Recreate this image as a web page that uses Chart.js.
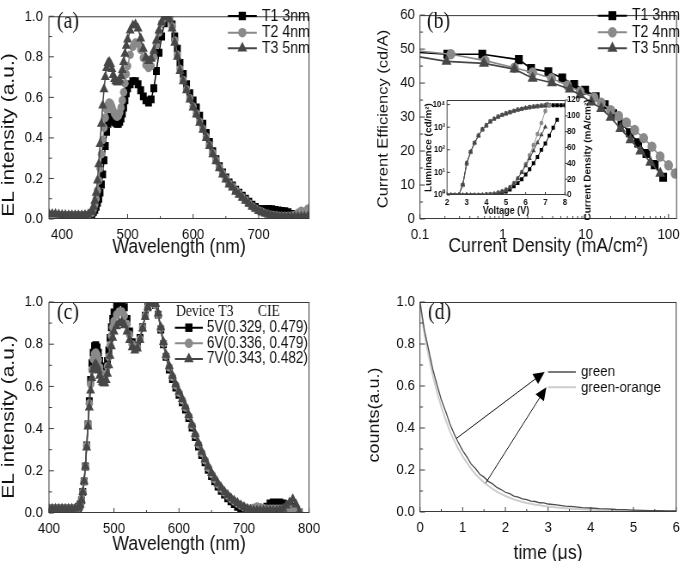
<!DOCTYPE html>
<html>
<head>
<meta charset="utf-8">
<title>EL spectra, efficiency and decay</title>
<script src="https://cdn.jsdelivr.net/npm/chart.js@4.4.1/dist/chart.umd.min.js"></script>
<style>
  html, body { margin: 0; padding: 0; background: #fff; }
  #wrap { position: relative; width: 685px; height: 561px; overflow: hidden; background: #fff; }
</style>
</head>
<body>
<div id="wrap"></div>
<script>
// ---------- data ----------
// wavelength grid (nm) shared by panels (a) and (c)
const wl = [380,385,390,395,400,405,410,415,420,425,430,435,440,445,
  446,448,450,452,454,456,458,460,462,464,466,468,470,472,474,476,478,480,482,484,486,488,490,492,494,496,498,500,
  504,508,512,516,520,524,528,532,536,540,544,548,552,556,560,564,568,572,576,580,
  585,590,595,600,605,610,615,620,625,630,635,640,645,650,655,660,665,670,675,680,685,690,695,700,
  705,710,715,720,725,730,735,740,745,750,755,760,765,770,775,780,785];

// (a) EL spectra, T1 / T2 / T3
const elT1 = [0.02,0.02,0.02,0.02,0.02,0.018,0.018,0.018,0.018,0.018,0.018,0.018,0.02,0.025,
  0.03,0.035,0.045,0.06,0.08,0.1,0.13,0.17,0.22,0.29,0.36,0.43,0.47,0.495,0.505,0.5,0.49,0.48,0.475,0.47,0.47,0.48,0.495,0.52,0.55,0.585,0.62,0.645,
  0.665,0.68,0.68,0.665,0.635,0.605,0.585,0.575,0.59,0.645,0.73,0.82,0.9,0.965,1.0,0.995,0.96,0.9,0.84,0.77,
  0.715,0.665,0.62,0.585,0.55,0.51,0.47,0.425,0.38,0.335,0.295,0.26,0.23,0.205,0.18,0.165,0.145,0.13,0.115,0.1,0.085,0.07,0.06,
  0.05,0.048,0.048,0.05,0.048,0.045,0.042,0.04,0.038,0.033,0.025,0.02,0.018,0.017,0.016,0.016,0.016,0.016];
const elT2 = [0.022,0.022,0.022,0.02,0.02,0.018,0.018,0.018,0.018,0.018,0.018,0.02,0.022,0.03,
  0.035,0.05,0.07,0.1,0.14,0.19,0.25,0.32,0.39,0.45,0.5,0.54,0.565,0.575,0.57,0.555,0.535,0.52,0.51,0.505,0.51,0.525,0.55,0.585,0.625,0.67,0.715,0.755,
  0.81,0.85,0.87,0.865,0.835,0.795,0.76,0.745,0.755,0.8,0.86,0.92,0.965,0.99,1.0,0.99,0.95,0.88,0.81,0.74,
  0.685,0.64,0.595,0.555,0.52,0.48,0.445,0.405,0.365,0.325,0.29,0.255,0.225,0.2,0.175,0.16,0.14,0.125,0.108,0.093,0.078,0.063,0.052,
  0.042,0.035,0.028,0.023,0.02,0.018,0.016,0.015,0.015,0.015,0.016,0.02,0.03,0.04,0.035,0.05,0.06,0.06];
const elT3 = [0.025,0.025,0.025,0.022,0.02,0.02,0.018,0.018,0.018,0.018,0.018,0.02,0.022,0.035,
  0.04,0.06,0.09,0.13,0.19,0.27,0.37,0.47,0.56,0.64,0.7,0.745,0.77,0.775,0.765,0.74,0.71,0.69,0.68,0.675,0.675,0.685,0.705,0.735,0.775,0.815,0.855,0.885,
  0.93,0.955,0.96,0.94,0.89,0.84,0.795,0.78,0.79,0.83,0.88,0.93,0.97,0.995,1.0,0.985,0.94,0.87,0.8,0.73,
  0.68,0.635,0.59,0.55,0.515,0.475,0.44,0.4,0.36,0.32,0.285,0.25,0.22,0.195,0.17,0.155,0.135,0.12,0.105,0.09,0.075,0.06,0.05,
  0.04,0.033,0.027,0.022,0.018,0.015,0.013,0.012,0.011,0.011,0.011,0.011,0.011,0.011,0.011,0.011,0.011,0.011];

// (c) EL spectra of device T3 at 5 V / 6 V / 7 V
const el5V = [0.02,0.02,0.02,0.02,0.02,0.02,0.02,0.02,0.02,0.02,0.02,0.02,0.02,0.025,
  0.03,0.04,0.06,0.1,0.15,0.22,0.32,0.42,0.53,0.63,0.71,0.76,0.79,0.795,0.785,0.76,0.72,0.695,0.68,0.67,0.67,0.685,0.72,0.77,0.83,0.88,0.92,0.95,
  0.985,1.0,1.0,0.975,0.92,0.86,0.81,0.785,0.79,0.83,0.88,0.935,0.975,0.995,1.0,0.985,0.94,0.87,0.8,0.74,
  0.68,0.635,0.595,0.56,0.525,0.49,0.45,0.405,0.36,0.315,0.275,0.24,0.205,0.175,0.15,0.125,0.105,0.087,0.07,0.055,0.042,0.03,0.02,
  0.01,0.004,0.002,0.002,0.005,0.01,0.02,0.03,0.045,0.05,0.045,0.05,0.045,0.04,0.035,0.03,0.01,0.002];
const el6V = [0.02,0.02,0.02,0.02,0.02,0.02,0.02,0.02,0.02,0.02,0.02,0.02,0.02,0.025,
  0.03,0.04,0.06,0.1,0.15,0.22,0.32,0.42,0.52,0.61,0.68,0.73,0.755,0.76,0.75,0.725,0.69,0.665,0.65,0.645,0.645,0.66,0.695,0.74,0.795,0.84,0.88,0.91,
  0.94,0.955,0.955,0.935,0.895,0.845,0.8,0.78,0.785,0.825,0.88,0.935,0.975,0.995,1.0,0.985,0.94,0.875,0.805,0.745,
  0.69,0.645,0.605,0.57,0.535,0.5,0.46,0.415,0.37,0.325,0.285,0.25,0.215,0.185,0.16,0.135,0.115,0.097,0.082,0.067,0.055,0.044,0.035,
  0.027,0.022,0.02,0.025,0.03,0.027,0.022,0.02,0.02,0.02,0.02,0.02,0.02,0.02,0.02,0.02,0.01,0.005];
const el7V = [0.02,0.02,0.02,0.02,0.02,0.02,0.02,0.02,0.02,0.02,0.02,0.02,0.02,0.025,
  0.03,0.04,0.06,0.1,0.15,0.22,0.31,0.41,0.5,0.58,0.64,0.68,0.7,0.705,0.695,0.675,0.65,0.63,0.62,0.615,0.615,0.63,0.66,0.7,0.745,0.79,0.83,0.86,
  0.885,0.9,0.905,0.89,0.86,0.82,0.785,0.77,0.78,0.82,0.875,0.93,0.975,0.995,1.0,0.99,0.945,0.88,0.81,0.75,
  0.695,0.65,0.61,0.575,0.54,0.505,0.465,0.42,0.375,0.33,0.29,0.255,0.22,0.19,0.165,0.14,0.12,0.1,0.085,0.07,0.058,0.047,0.037,
  0.028,0.02,0.015,0.012,0.012,0.012,0.012,0.012,0.012,0.012,0.012,0.015,0.02,0.035,0.05,0.065,0.04,0.005];

// (b) current efficiency (cd/A) vs current density (mA/cm2)
const jT1 = [0.07,0.214,0.565,1.56,2.19,3.54,5.21,7.26,9.84,13.2,17,21.5,27,34,43,54,68,86];
const ceT1 = [49.2,48.5,48.5,46.9,44.3,43.3,41.5,39.6,37.9,36.0,33.6,31.0,28.2,25.4,22.4,19.3,16.0,12.3];
const jT2 = [0.07,0.236,0.613,1.38,2.29,3.87,6.03,8.57,12.6,15.4,20,25,31,39,50,63,79,100,120];
const ceT2 = [49.8,48.5,46.6,44.5,43.1,41.4,39.3,37.5,35.8,34.2,32.0,30.3,28.4,26.2,23.8,21.3,18.4,15.8,13.4];
const jT3 = [0.07,0.209,0.591,1.38,2.29,3.91,6.43,8.57,11.7,15.4,20,26.3,34.7,45.7,60.3,79.5];
const ceT3 = [48.3,46.4,45.8,44.1,41.4,40.1,38.2,36.5,34.4,32.5,29.9,26.6,23.3,20.0,16.7,13.4];

// (b) inset: luminance (cd/m2) and current density (mA/cm2) vs voltage (V)
const lumV1 = [2.0,2.2,2.4,2.6,2.8,3.0,3.2,3.4,3.6,3.8,4.0,4.2,4.4,4.6,4.8,5.0,5.2,5.4,5.6,5.8,6.0,6.2,6.4,6.6,6.8,7.0,7.2,7.4,7.6,7.8,8.0];
const lumT1 = [1,1,1,1,2.8,25,80,200,420,800,1200,1780,2340,2880,3470,4000,4570,5250,5900,6450,7080,7600,8130,8500,8900,9100,9300,9300,9300,9300,9300];
const lumV2 = [2.0,2.2,2.4,2.6,2.8,3.0,3.2,3.4,3.6,3.8,4.0,4.2,4.4,4.6,4.8,5.0,5.2,5.4,5.6,5.8,6.0,6.2,6.4,6.6,6.8,7.0,7.2];
const lumT2 = [1,1,1,1,2.7,24,78,195,410,790,1190,1760,2330,2870,3450,3980,4560,5230,5880,6430,7050,7580,8100,8480,8880,9080,9280];
const lumV3 = [2.0,2.2,2.4,2.6,2.8,3.0,3.2,3.4,3.6,3.8,4.0,4.2,4.4,4.6,4.8,5.0,5.2,5.4,5.6,5.8,6.0,6.2,6.4,6.6,6.8,7.0];
const lumT3 = [1,1,1,1,2.9,26,82,205,430,810,1210,1790,2350,2890,3480,4010,4580,5260,5910,6460,7090,7610,8140,8510,8910,9110];
const jvV1 = [2.0,2.2,2.4,2.6,2.8,3.0,3.2,3.4,3.6,3.8,4.0,4.2,4.4,4.6,4.8,5.0,5.2,5.4,5.6,5.8,6.0,6.2,6.4,6.6,6.8,7.0,7.2,7.4,7.6];
const jvT1 = [0,0,0,0,0,0,0,0,0,0.1,0.2,0.5,1.0,1.8,3.0,4.5,7,11,15,20,26,32.5,40,48,57,65,75,85,95];
const jvV2 = [2.0,2.2,2.4,2.6,2.8,3.0,3.2,3.4,3.6,3.8,4.0,4.2,4.4,4.6,4.8,5.0,5.2,5.4,5.6,5.8,6.0,6.2,6.4,6.6,6.8,7.0,7.1];
const jvT2 = [0,0,0,0,0,0,0,0,0,0.1,0.3,0.8,1.6,3,4.8,7,10,15,21,29,39,50,63,77,91,106,115];
const jvV3 = [2.0,2.2,2.4,2.6,2.8,3.0,3.2,3.4,3.6,3.8,4.0,4.2,4.4,4.6,4.8,5.0,5.2,5.4,5.6,5.8,6.0,6.2,6.4,6.6,6.8,7.0];
const jvT3 = [0,0,0,0,0,0,0,0,0,0.1,0.3,0.7,1.5,2.8,4.5,6.5,9.5,14.5,21,28.5,37,46,56,66,76,86];

// (d) transient decay
const tD = [0,0.1,0.2,0.3,0.4,0.5,0.6,0.7,0.8,0.9,1.0,1.1,1.2,1.3,1.4,1.5,1.6,1.7,1.8,1.9,2.0,2.1,2.2,2.3,2.4,2.5,2.6,2.7,2.8,2.9,3.0,
  3.2,3.4,3.6,3.8,4.0,4.2,4.4,4.6,4.8,5.0,5.2,5.4,5.6,5.8,6.0];
const decGreen = [1.0,0.87,0.775,0.68,0.605,0.535,0.48,0.42,0.372,0.33,0.292,0.262,0.228,0.207,0.18,0.166,0.146,0.134,0.117,0.107,
  0.094,0.087,0.076,0.071,0.063,0.059,0.052,0.05,0.044,0.043,0.038,
  0.034,0.028,0.026,0.021,0.019,0.016,0.015,0.012,0.011,0.009,0.008,0.007,0.007,0.005,0.005];
const decGreenOrange = [1.0,0.85,0.745,0.65,0.57,0.5,0.44,0.385,0.34,0.3,0.265,0.235,0.205,0.18,0.16,0.14,0.125,0.11,0.097,0.086,
  0.076,0.068,0.06,0.054,0.048,0.043,0.039,0.035,0.032,0.029,0.026,
  0.022,0.018,0.015,0.013,0.011,0.009,0.008,0.007,0.006,0.005,0.004,0.004,0.003,0.003,0.003];

// tick labels
const wlTicksA = [400,500,600,700];
const wlTicksC = [400,500,600,700,800];
const elTicks = [0,0.2,0.4,0.6,0.8,1.0];
const ceTicks = [0,10,20,30,40,50,60];
const jTicks = [0.1,1,10,100];
const vTicks = [2,3,4,5,6,7,8];
const lumTicks = [1,10,100,1000,10000];
const jvTicks = [0,20,40,60,80,100,120];
const tTicks = [0,1,2,3,4,5,6];

// ---------- drawing ----------
const K = 0.86;               // the source figure is squeezed horizontally
const hx = v => v / K;
const SANS = "'Liberation Sans', Arial, Helvetica, sans-serif";
const SERIF = "'Liberation Serif', 'Times New Roman', serif";
const AX = '#3a3a3a', TXT = '#111';
const C1 = '#000000', C2 = '#8a8a8a', C3 = '#474747';
const sup = ['\u2070', '\u00b9', '\u00b2', '\u00b3', '\u2074'];
const UP = -Math.PI / 2;

const wrap = document.getElementById('wrap');
function makeCanvas(left, top, w, h) {
  const c = document.createElement('canvas');
  c.width = Math.round(w / K);
  c.height = h;
  c.style.cssText = `position:absolute;left:${left}px;top:${top}px;width:${w}px;height:${h}px;`;
  wrap.appendChild(c);
  return c;
}

function pts(xs, ys) { return xs.map((x, i) => ({ x, y: ys[i] })); }

function ds(label, data, color, style, r, order, bw, yAxisID) {
  const d = { label, data, borderColor: color, backgroundColor: color, pointBackgroundColor: color,
    pointBorderColor: color, pointBorderWidth: 0, pointStyle: style, pointRadius: r, pointHoverRadius: r,
    borderWidth: bw, order, tension: 0, fill: false };
  if (yAxisID) d.yAxisID = yAxisID;
  return d;
}

function axis(o) {
  return {
    type: o.type || 'linear', min: o.min, max: o.max, position: o.position,
    afterBuildTicks: s => { s.ticks = o.ticks.map(v => ({ value: v })); },
    afterFit: s => { if (o.width != null) s.width = o.width; if (o.height != null) s.height = o.height; },
    grid: { display: false, drawTicks: false },
    border: { display: false },
    ticks: { color: TXT, font: { family: SANS, size: o.fs || 15.5, weight: o.fw || 'normal' },
      padding: o.tpad, maxRotation: 0, minRotation: 0, autoSkip: false, callback: o.fmt },
    title: { display: !!o.title, text: o.title || '', color: TXT,
      font: { family: SANS, size: o.tfs || 20.5, weight: o.fw || 'normal' }, padding: o.titlePad || 0 }
  };
}

function marker(ctx, style, x, y, r, color) {
  ctx.fillStyle = color;
  ctx.beginPath();
  if (style === 'rect') { const s = r * Math.SQRT1_2; ctx.rect(x - s, y - s, 2 * s, 2 * s); }
  else if (style === 'triangle') { ctx.moveTo(x, y - r); ctx.lineTo(x + r * 0.866, y + r * 0.5); ctx.lineTo(x - r * 0.866, y + r * 0.5); ctx.closePath(); }
  else ctx.arc(x, y, r, 0, Math.PI * 2);
  ctx.fill();
}

function arrow(ctx, x1, y1, x2, y2, len, wid) {
  const a = Math.atan2(y2 - y1, x2 - x1), c = Math.cos(a), s = Math.sin(a);
  ctx.beginPath(); ctx.moveTo(x1, y1); ctx.lineTo(x2 - c * len * 0.7, y2 - s * len * 0.7); ctx.stroke();
  ctx.beginPath(); ctx.moveTo(x2, y2);
  ctx.lineTo(x2 - len * c + wid * s, y2 - len * s - wid * c);
  ctx.lineTo(x2 - len * c - wid * s, y2 - len * s + wid * c);
  ctx.closePath(); ctx.fill();
}

// frame, inward ticks, legend and free texts
function deco(o) {
  return {
    id: 'deco',
    afterDraw(chart) {
      const ctx = chart.ctx, a = chart.chartArea;
      ctx.save();
      ctx.strokeStyle = AX; ctx.lineWidth = 1;
      ctx.strokeRect(a.left, a.top + 0.5, a.right - a.left, a.bottom - a.top - 1);
      for (const id in (o.ticks || {})) {
        const s = chart.scales[id], t = o.ticks[id];
        const mark = (v, len) => {
          if (v < s.min * 0.999999 || v > s.max * 1.000001) return;
          const p = s.getPixelForValue(v);
          const dir = t.out ? 1 : -1;
          ctx.beginPath();
          if (t.side === 'bottom') { ctx.moveTo(p, a.bottom); ctx.lineTo(p, a.bottom + dir * len); }
          else if (t.side === 'left') { ctx.moveTo(a.left, p); ctx.lineTo(a.left - dir * hx(len), p); }
          else { ctx.moveTo(a.right, p); ctx.lineTo(a.right + dir * hx(len), p); }
          ctx.stroke();
        };
        t.major.forEach(v => mark(v, t.len || 5));
        (t.minor || []).forEach(v => mark(v, t.mlen || 3));
      }
      for (const r of (o.legend || [])) {
        ctx.strokeStyle = r.color; ctx.lineWidth = r.lw || 2;
        ctx.beginPath(); ctx.moveTo(hx(r.x1), r.y); ctx.lineTo(hx(r.x2), r.y); ctx.stroke();
        marker(ctx, r.style, hx((r.x1 + r.x2) / 2), r.y, r.r, r.color);
        ctx.fillStyle = TXT; ctx.font = r.font; ctx.textAlign = 'left'; ctx.textBaseline = 'middle';
        ctx.fillText(r.text, hx(r.tx), r.y);
      }
      for (const t of (o.texts || [])) {
        ctx.save();
        ctx.fillStyle = t.color || TXT; ctx.font = t.font; ctx.textAlign = t.align || 'left'; ctx.textBaseline = 'middle';
        ctx.translate(hx(t.x), t.y);
        if (t.rot) ctx.rotate(t.rot);
        ctx.fillText(t.text, 0, 0);
        ctx.restore();
      }
      if (o.extra) o.extra(chart, ctx);
      ctx.restore();
    }
  };
}

function baseOptions(pad, scales) {
  return {
    responsive: false, animation: false, events: [],
    layout: { padding: pad },
    plugins: { legend: { display: false }, tooltip: { enabled: false } },
    scales
  };
}

const fmt1 = v => Number(v).toFixed(1);
const fmtN = v => String(v);
const LEG_FONT = `16.5px ${SANS}`;
const LAB_FONT = `23px ${SERIF}`;

// ----- (a) -----
new Chart(makeCanvas(0, 0, 342, 280), {
  type: 'line',
  data: { datasets: [
    ds('T1 3nm', pts(wl, elT1), C1, 'rect', 5.6, 2, 1.5),
    ds('T2 4nm', pts(wl, elT2), C2, 'circle', 4.3, 1, 1.5),
    ds('T3 5nm', pts(wl, elT3), C3, 'triangle', 6, 0, 1.5)
  ] },
  options: baseOptions({ left: 0, top: 7, right: hx(33), bottom: 0 }, {
    x: axis({ min: 380, max: 777, ticks: wlTicksA, fmt: fmtN, height: 61, tpad: 6,
      title: 'Wavelength (nm)', titlePad: { top: 0, bottom: 20 } }),
    y: axis({ min: 0, max: 1, ticks: elTicks, fmt: fmt1, width: hx(49), tpad: hx(6) })
  }),
  plugins: [deco({
    ticks: { x: { side: 'bottom', major: wlTicksA, minor: [450,550,650,750] },
             y: { side: 'left', major: elTicks, minor: [0.1,0.3,0.5,0.7,0.9] } },
    legend: [
      { x1: 228, x2: 257, y: 16, color: C1, style: 'rect', r: 6, text: 'T1 3nm', tx: 262, font: LEG_FONT },
      { x1: 228, x2: 257, y: 32.7, color: C2, style: 'circle', r: 4.8, text: 'T2 4nm', tx: 262, font: LEG_FONT },
      { x1: 228, x2: 257, y: 48.3, color: C3, style: 'triangle', r: 6.5, text: 'T3 5nm', tx: 262, font: LEG_FONT }
    ],
    texts: [
      { text: '(a)', x: 57, y: 22, font: LAB_FONT },
      { text: 'EL intensity (a.u.)', x: 9, y: 135, font: `21px ${SANS}`, align: 'center', rot: UP }
    ]
  })]
});

// ----- (b) -----
new Chart(makeCanvas(342, 0, 343, 280), {
  type: 'line',
  data: { datasets: [
    ds('T1 3nm', pts(jT1, ceT1), C1, 'rect', 6.4, 2, 1.6),
    ds('T2 4nm', pts(jT2, ceT2), C2, 'circle', 5.2, 1, 1.6),
    ds('T3 5nm', pts(jT3, ceT3), C3, 'triangle', 6.8, 0, 1.6)
  ] },
  options: baseOptions({ left: 0, top: 7, right: hx(5), bottom: 0 }, {
    x: axis({ type: 'logarithmic', min: 0.1, max: 125, ticks: jTicks, fmt: fmtN, height: 61, tpad: 6,
      title: 'Current Density (mA/cm\u00b2)', titlePad: { top: 0, bottom: 21 } }),
    y: axis({ min: 0, max: 60, ticks: ceTicks, fmt: fmtN, width: hx(78), tpad: hx(5) })
  }),
  plugins: [deco({
    ticks: { x: { side: 'bottom', major: jTicks,
                  minor: [0.2,0.3,0.4,0.5,0.6,0.7,0.8,0.9,2,3,4,5,6,7,8,9,20,30,40,50,60,70,80,90] },
             y: { side: 'left', major: ceTicks, minor: [5,15,25,35,45,55] } },
    legend: [
      { x1: 256, x2: 285, y: 15.7, color: C1, style: 'rect', r: 6.4, text: 'T1 3nm', tx: 290, font: LEG_FONT },
      { x1: 256, x2: 285, y: 32.3, color: C2, style: 'circle', r: 5.2, text: 'T2 4nm', tx: 290, font: LEG_FONT },
      { x1: 256, x2: 285, y: 48.3, color: C3, style: 'triangle', r: 6.8, text: 'T3 5nm', tx: 290, font: LEG_FONT }
    ],
    texts: [
      { text: '(b)', x: 85, y: 22, font: LAB_FONT },
      { text: 'Current Efficiency (cd/A)', x: 42, y: 119, font: `16.5px ${SANS}`, align: 'center', rot: UP }
    ]
  })]
});

// ----- (b) inset -----
new Chart(makeCanvas(415, 75, 185, 155), {
  type: 'line',
  data: { datasets: [
    ds('L1', pts(lumV1, lumT1), C1, 'rect', 2.8, 2, 1, 'yL'),
    ds('L2', pts(lumV2, lumT2), C2, 'circle', 2.3, 1, 1, 'yL'),
    ds('L3', pts(lumV3, lumT3), C3, 'triangle', 3, 0, 1, 'yL'),
    ds('J1', pts(jvV1, jvT1), C1, 'rect', 2.8, 5, 1, 'yR'),
    ds('J2', pts(jvV2, jvT2), C2, 'circle', 2.3, 4, 1, 'yR'),
    ds('J3', pts(jvV3, jvT3), C3, 'triangle', 3, 3, 1, 'yR')
  ] },
  options: baseOptions({ left: 0, top: 25, right: 0, bottom: 0 }, {
    x: axis({ min: 2, max: 8, ticks: vTicks, fmt: fmtN, height: 35, tpad: 2, fs: 9, fw: 'bold',
      title: 'Voltage (V)', tfs: 10.5, titlePad: { top: 0, bottom: 12.5 } }),
    yL: axis({ type: 'logarithmic', position: 'left', min: 1, max: 16000, ticks: lumTicks,
      fmt: v => '10' + sup[Math.round(Math.log10(v))], width: hx(32), tpad: hx(2), fs: 9, fw: 'bold',
      title: 'Luminance (cd/m\u00b2)', tfs: 10, titlePad: { top: hx(14) - 6, bottom: 0 } }),
    yR: axis({ position: 'right', min: 0, max: 120, ticks: jvTicks, fmt: fmtN, width: hx(35), tpad: hx(2), fs: 9, fw: 'bold' })
  }),
  plugins: [deco({
    ticks: { x: { side: 'bottom', major: vTicks, len: 3, minor: [] },
             yL: { side: 'left', major: lumTicks, len: 3, minor: [] },
             yR: { side: 'right', major: jvTicks, len: 3, out: true, minor: [] } },
    texts: [{ text: 'Current Density (mA/cm\u00b2)', x: 173, y: 85, font: `bold 10px ${SANS}`, align: 'center', rot: UP }]
  })]
});

// ----- (c) -----
const LEG_C = `15.8px ${SANS}`;
new Chart(makeCanvas(0, 280, 342, 281), {
  type: 'line',
  data: { datasets: [
    ds('5V', pts(wl, el5V), C1, 'rect', 5.6, 2, 1.5),
    ds('6V', pts(wl, el6V), C2, 'circle', 4.3, 1, 1.5),
    ds('7V', pts(wl, el7V), C3, 'triangle', 6, 0, 1.5)
  ] },
  options: baseOptions({ left: 0, top: 22, right: hx(33), bottom: 0 }, {
    x: axis({ min: 400, max: 800, ticks: wlTicksC, fmt: fmtN, height: 48, tpad: 6,
      title: 'Wavelength (nm)', titlePad: { top: 0, bottom: 4 } }),
    y: axis({ min: 0, max: 1, ticks: elTicks, fmt: fmt1, width: hx(49), tpad: hx(6) })
  }),
  plugins: [deco({
    ticks: { x: { side: 'bottom', major: wlTicksC, minor: [450,550,650,750] },
             y: { side: 'left', major: elTicks, minor: [0.1,0.3,0.5,0.7,0.9] } },
    legend: [
      { x1: 175, x2: 203, y: 47.7, color: C1, style: 'rect', r: 6, text: '5V(0.329, 0.479)', tx: 207, font: LEG_C },
      { x1: 175, x2: 203, y: 63.3, color: C2, style: 'circle', r: 4.8, text: '6V(0.336, 0.479)', tx: 207, font: LEG_C },
      { x1: 175, x2: 203, y: 79, color: C3, style: 'triangle', r: 6.5, text: '7V(0.343, 0.482)', tx: 207, font: LEG_C }
    ],
    texts: [
      { text: '(c)', x: 57, y: 33, font: LAB_FONT },
      { text: 'Device T3', x: 176, y: 32, font: `16px ${SERIF}` },
      { text: 'CIE', x: 258, y: 32, font: `16px ${SERIF}` },
      { text: 'EL intensity (a.u.)', x: 9, y: 137, font: `21px ${SANS}`, align: 'center', rot: UP }
    ]
  })]
});

// ----- (d) -----
const CG = '#4d4d4d', CGO = '#cdcdcd';
new Chart(makeCanvas(342, 280, 343, 281), {
  type: 'line',
  data: { datasets: [
    ds('green', pts(tD, decGreen), CG, 'circle', 0, 0, 1.3),
    ds('green-orange', pts(tD, decGreenOrange), CGO, 'circle', 0, 1, 2)
  ] },
  options: baseOptions({ left: 0, top: 22, right: hx(5), bottom: 0 }, {
    x: axis({ min: 0, max: 6, ticks: tTicks, fmt: fmtN, height: 49, tpad: 6,
      title: 'time (\u03bcs)', titlePad: { top: 0, bottom: -5 } }),
    y: axis({ min: 0, max: 1, ticks: elTicks, fmt: fmt1, width: hx(78), tpad: hx(5) })
  }),
  plugins: [deco({
    ticks: { x: { side: 'bottom', major: tTicks, minor: [0.5,1.5,2.5,3.5,4.5,5.5] },
             y: { side: 'left', major: elTicks, minor: [0.1,0.3,0.5,0.7,0.9] } },
    texts: [
      { text: '(d)', x: 86, y: 33, font: LAB_FONT },
      { text: 'counts(a.u.)', x: 33, y: 135, font: `18px ${SANS}`, align: 'center', rot: UP }
    ],
    extra(chart, ctx) {
      const X = chart.scales.x, Y = chart.scales.y;
      const px = v => X.getPixelForValue(v), py = v => Y.getPixelForValue(v);
      // legend lines
      [[0.667, CG, 'green', 1.5], [0.594, CGO, 'green-orange', 2]].forEach(([v, c, t, w]) => {
        ctx.strokeStyle = c; ctx.lineWidth = w;
        ctx.beginPath(); ctx.moveTo(px(3.0), py(v)); ctx.lineTo(px(3.65), py(v)); ctx.stroke();
        ctx.fillStyle = TXT; ctx.font = `15.5px ${SANS}`; ctx.textAlign = 'left'; ctx.textBaseline = 'middle';
        ctx.fillText(t, px(3.77), py(v));
      });
      // pointer arrows
      ctx.strokeStyle = '#111'; ctx.fillStyle = '#000'; ctx.lineWidth = 1;
      arrow(ctx, px(0.85), py(0.35), px(2.92), py(0.667), 13, 6);
      arrow(ctx, px(1.54), py(0.138), px(2.96), py(0.594), 13, 6);
    }
  })]
});
</script>
</body>
</html>
